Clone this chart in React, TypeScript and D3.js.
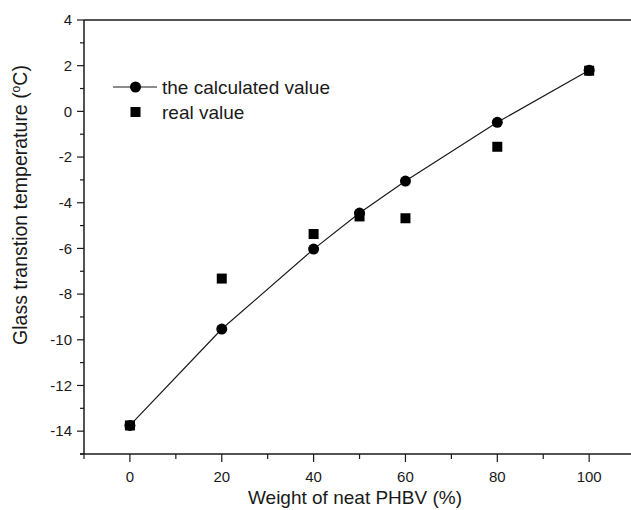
import React from 'react';
import * as d3 from 'd3';

// weight fraction of neat PHBV (%)
const weights = [0, 20, 40, 50, 60, 80, 100];
const calculated = [-13.75, -9.53, -6.03, -4.45, -3.05, -0.48, 1.8];
const real = [-13.75, -7.32, -5.37, -4.6, -4.68, -1.55, 1.78];

const xMajor = [0, 20, 40, 60, 80, 100];
const xMinor = [-10, 10, 30, 50, 70, 90];
const yMajor = [-14, -12, -10, -8, -6, -4, -2, 0, 2, 4];
const yMinor = [-15, -13, -11, -9, -7, -5, -3, -1, 1, 3];

const W = 631, H = 510;
const font = "Arial, 'Liberation Sans', sans-serif";
const ink = '#1a1a1a';

const App = () => {
    const x = d3.scaleLinear().domain([-10, 120]).range([84, 681]);
    const y = d3.scaleLinear().domain([-15, 4]).range([454, 20]);
    const [x0] = x.range();
    const [yb, yt] = y.range();

    const line = d3.line<number>()
        .x((d, i) => x(weights[i]))
        .y(d => y(d));

    return (
        <svg width={W} height={H} style={{ position: 'absolute', left: 0, top: 0 }}
            fontFamily={font}>
            <rect width={W} height={H} fill="#fff" />

            {/* frame */}
            <line x1={x0} x2={W} y1={yt} y2={yt} stroke={ink} strokeWidth={1.5} />
            <line x1={x0 - 4} x2={W} y1={yb} y2={yb} stroke={ink} strokeWidth={1.5} />
            <line x1={x0} x2={x0} y1={yt} y2={yb} stroke={ink} strokeWidth={1.5} />

            {/* y axis */}
            {yMajor.map(v => (
                <g key={'ym' + v}>
                    <line x1={x0 - 7} x2={x0} y1={y(v)} y2={y(v)} stroke={ink} strokeWidth={1.2} />
                    <text x={x0 - 12} y={y(v)} dy="0.35em" textAnchor="end" fontSize={15} fill={ink}>{v}</text>
                </g>
            ))}
            {yMinor.map(v => (
                <line key={'yn' + v} x1={x0 - 4} x2={x0} y1={y(v)} y2={y(v)} stroke={ink} strokeWidth={1.2} />
            ))}

            {/* x axis */}
            {xMajor.map(v => (
                <g key={'xm' + v}>
                    <line x1={x(v)} x2={x(v)} y1={yb} y2={yb + 8} stroke={ink} strokeWidth={1.2} />
                    <text x={x(v)} y={yb + 28} textAnchor="middle" fontSize={15} fill={ink}>{v}</text>
                </g>
            ))}
            {xMinor.map(v => (
                <line key={'xn' + v} x1={x(v)} x2={x(v)} y1={yb} y2={yb + 5} stroke={ink} strokeWidth={1.2} />
            ))}

            {/* axis titles */}
            <text x={355} y={504} textAnchor="middle" fontSize={19} fill={ink}>Weight of neat PHBV (%)</text>
            <text transform="translate(27,205) rotate(-90)" textAnchor="middle" fontSize={19.5} fill={ink}>
                Glass transtion temperature (<tspan fontSize={12} dy={-7}>o</tspan><tspan dy={7}>C)</tspan>
            </text>

            {/* calculated series */}
            <path d={line(calculated) || ''} fill="none" stroke={ink} strokeWidth={1.2} />
            {calculated.map((v, i) => (
                <circle key={'c' + i} cx={x(weights[i])} cy={y(v)} r={5.5} fill="#000" />
            ))}

            {/* real series */}
            {real.map((v, i) => (
                <rect key={'r' + i} x={x(weights[i]) - 5} y={y(v) - 5} width={10} height={10} fill="#000" />
            ))}

            {/* legend */}
            <line x1={113} x2={157} y1={87} y2={87} stroke={ink} strokeWidth={1.2} />
            <circle cx={135.5} cy={87} r={5.5} fill="#000" />
            <text x={162} y={87} dy="0.35em" fontSize={19} fill={ink}>the calculated value</text>
            <rect x={130.5} y={107} width={10} height={10} fill="#000" />
            <text x={162} y={112} dy="0.35em" fontSize={19} fill={ink}>real value</text>
        </svg>
    );
};

export default App;
